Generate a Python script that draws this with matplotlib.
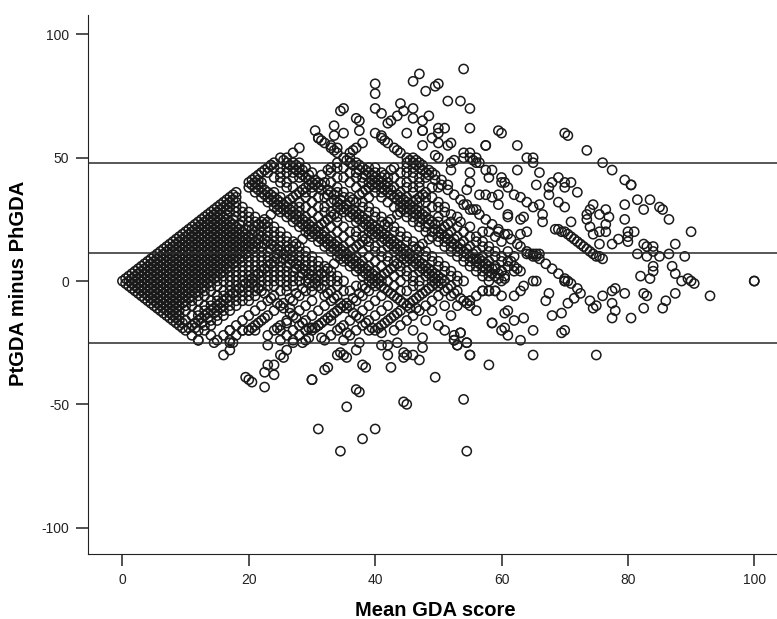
import matplotlib
matplotlib.use('Agg')
import matplotlib.pyplot as plt

plt.rcParams['font.family'] = ['Liberation Sans', 'DejaVu Sans']
plt.rcParams['axes.unicode_minus'] = False

x_ticks = [0, 20, 40, 60, 80, 100]
y_ticks = [-100, -50, 0, 50, 100]
limit_lines = [47.9, 11.4, -25.2]

# isolated circles (mean, difference)
sparse_points = [
    (54, 86), (47, 84), (46, 81), (50, 80), (49.5, 79), (48, 77), (40, 80), (40, 76), (40, 70), (41, 68),
    (44, 72), (46, 70), (44.5, 69), (43.5, 67), (42.5, 65), (42, 64), (46, 66), (47.5, 65), (45, 60), (47.5, 61),
    (47.5, 55), (35, 70), (34.5, 69), (37, 66), (37.5, 65), (37.5, 61), (40, 60), (41, 59), (33.5, 63), (33.5, 59),
    (35, 60), (30.5, 61), (31, 58), (33, 55), (34, 54), (28, 54), (27, 52), (25, 50), (26, 50), (23.5, 47),
    (51.5, 73), (53.5, 73), (55, 70), (48.5, 67), (47.5, 61), (50, 62), (51, 62), (50, 60), (49, 58), (50, 56),
    (51.5, 55), (52, 56), (55, 62), (59.5, 61), (60, 60), (57.5, 55), (57.5, 55), (62.5, 55), (70, 60), (70.5, 59),
    (73.5, 53), (76, 48), (77.5, 45), (79.5, 41), (80.5, 39), (80.5, 39), (64, 50), (65, 50), (65, 48), (62.5, 45),
    (66, 44), (65.5, 39), (55, 52), (56, 50), (56.5, 48), (54, 50), (52.5, 49), (49.5, 51), (50, 50), (57.5, 45),
    (58.5, 45), (55, 44), (52, 45), (58, 42), (60, 42), (60, 40), (61, 38), (55, 40), (54.5, 37), (69, 42),
    (68, 40), (70, 40), (71, 40), (70, 38), (72, 36), (67.5, 38), (67.5, 35), (69, 32), (70, 30), (56.5, 35),
    (57.5, 35), (58.5, 34), (59.5, 35), (59.5, 31), (62, 35), (63, 34), (64, 32), (65, 30), (66, 31), (66.5, 27),
    (66.5, 24), (74.5, 31), (74, 29), (73.5, 27), (73.5, 25), (74, 22), (74.5, 19), (76.5, 29), (75.5, 27), (77, 26),
    (76.5, 23), (75.5, 20), (76.5, 20), (77.5, 15), (78.5, 17), (75.5, 15), (79.5, 31), (79.5, 25), (81.5, 33), (82.5, 29),
    (83.5, 33), (85, 30), (85.5, 29), (86.5, 25), (80, 20), (81, 20), (80, 16), (80, 18), (90, 20), (87.5, 15),
    (82.5, 15), (83, 14), (84, 14), (84, 12), (81.5, 11), (83, 10), (85, 10), (86.5, 11), (89, 10), (84, 6),
    (84, 4), (83.5, 1), (82, 2), (87, 6), (87.5, 3), (88.5, 0), (89.5, 1), (90, 0), (90.5, -1), (93, -6),
    (100, 0), (100, 0), (87.5, -5), (86, -8), (85.5, -11), (82.5, -5), (83, -6), (82.5, -11), (80.5, -15), (77.5, -15),
    (78, -12), (77.5, -9), (79.5, -5), (78, -3), (77.5, -4), (76, -6), (75, -10), (74.5, -11), (74, -8), (72.5, -5),
    (71.5, -7), (70.5, -9), (69.5, -13), (68, -14), (67, -8), (67.5, -5), (75, -30), (65, -30), (63, -24), (65, -20),
    (61, -22), (60.5, -19), (60, -20), (58.5, -17), (62, -16), (61, -12), (60.5, -13), (63.5, -15), (69.5, -21), (70, -20),
    (55, -30), (54.5, -25), (53, -26), (52.5, -24), (52.5, -22), (53.5, -21), (68.5, 21), (69, 21), (69.5, 20), (70, 20),
    (70.5, 19), (71, 18), (71.5, 17), (72, 16), (72.5, 15), (73, 14), (73.5, 13), (74, 12), (74.5, 11), (75, 10),
    (75.5, 10), (76, 9), (71, 24), (63, 14), (64, 12), (65, 10), (65.5, 10), (66, 9), (67, 7), (68, 5),
    (69, 3), (70, 1), (70.5, 0), (71, -1), (72, -3), (64, 11), (64.5, 11), (65, 11), (65.5, 11), (66, 11),
    (61, 27), (61, 26), (63, 25), (63.5, 26), (64, 20), (63, 19), (62.5, 15), (61.5, 17), (61, 19), (59.5, 20),
    (60.5, 40), (54, 31), (55, 29), (56, 29), (51, 28), (52, 27), (53, 26), (53.5, 24), (56, 9), (57, 8),
    (58, 6), (59, 5), (60, 4), (60.5, 2), (61.5, 8), (62, 6), (62.5, 5), (63, 4), (65.5, 0), (70, 0),
    (57, -4), (58, -4), (59, -4), (63, -4), (63.5, -2), (55, -10), (55, -8), (56, -12), (34.5, -69), (54.5, -69),
    (38, -64), (31, -60), (40, -60), (35.5, -51), (54, -48), (44.5, -49), (45, -50), (37, -44), (37.5, -45), (30, -40),
    (30, -40), (49.5, -39), (32, -36), (32.5, -35), (38, -34), (38.5, -35), (42.5, -35), (19.5, -39), (20, -40), (20.5, -41),
    (22.5, -43), (22.5, -37), (24, -38), (23, -34), (24, -34), (16, -30), (17, -28), (17, -25), (17.5, -25), (14.5, -25),
    (12, -24), (14, -22), (17, -20), (23, -26), (25, -30), (25.5, -31), (26, -28), (27, -25), (27, -24), (34, -30),
    (34.5, -29), (35, -30), (35.5, -31), (37, -28), (37.5, -25), (41, -26), (42, -26), (42, -30), (43.5, -25), (44.5, -29),
    (44.5, -31), (45, -30), (46, -30), (47, -32), (47.5, -27), (47.5, -23), (55, -30), (58, -34), (52.5, -24), (53, -26),
    (54.5, -25), (53.5, -21), (58.5, -17), (31.5, -23), (33, -16), (34.5, -19), (35.5, -21), (39, -20), (40, -20), (41, -21),
    (20, -20), (20, -20), (19, -20), (21, -20), (24.5, -19), (25, -20), (26, -17), (29, -20), (30, -19), (31, -18),
    (28.5, -25), (29.5, -23),
]

# dense core of the cloud, read row by row: one list of means per difference level
core_levels = [58, 56, 54, 52, 50, 48, 46, 44, 42, 40, 38, 36, 34, 32, 30, 28, 26, 24, 22, 20, 18, 16, 14, 12, 10, 8, 6, 4, 2, 0,
               -2, -4, -6, -8, -10, -12, -14, -16, -18, -20, -22, -24]
core_means = [
    [31, 41],
    [32, 38, 42],
    [33, 37, 43],
    [34, 36, 44, 54],
    [35, 36, 45, 46, 55],
    [24, 26, 27, 28, 34, 36, 37, 45, 46, 47, 52, 56],
    [23, 24, 25, 26, 27, 28, 29, 33, 34, 35, 38, 39, 40, 43, 45, 46, 47],
    [22, 23, 25, 26, 27, 28, 30, 33, 36, 37, 39, 40, 41, 44, 45, 46, 48, 49],
    [21, 24, 25, 27, 28, 29, 34, 35, 37, 38, 40, 41, 42, 43, 46, 47, 48],
    [20, 21, 22, 25, 26, 30, 31, 32, 33, 36, 38, 39, 40, 41, 42, 44, 45, 47],
    [20, 21, 22, 26, 27, 29, 30, 31, 34, 37, 39, 40, 41, 42, 43, 45, 46, 47, 49, 50],
    [18, 21, 22, 23, 24, 28, 29, 30, 33, 34, 35, 38, 40, 41, 42, 44, 46, 48],
    [17, 18, 22, 23, 24, 25, 27, 29, 31, 32, 35, 36, 39, 41, 43, 44, 45, 47, 48, 49],
    [16, 17, 18, 23, 24, 25, 26, 28, 30, 33, 34, 36, 37, 38, 42, 44, 45, 46, 47, 48, 50],
    [15, 16, 17, 18, 19, 24, 25, 26, 27, 28, 29, 31, 32, 34, 35, 38, 39, 43, 44, 45, 46, 49, 50, 51],
    [14, 15, 17, 18, 19, 20, 25, 26, 27, 28, 30, 32, 33, 35, 36, 37, 39, 40, 44, 45, 46, 47, 48],
    [13, 14, 15, 16, 18, 19, 20, 21, 26, 27, 28, 29, 31, 33, 34, 36, 37, 38, 40, 41, 45, 46, 47, 48, 50],
    [12, 13, 14, 15, 16, 17, 19, 20, 21, 22, 23, 27, 28, 29, 30, 32, 34, 37, 38, 39, 41, 42, 46, 47, 49, 50, 52],
    [11, 12, 13, 14, 15, 16, 17, 18, 20, 21, 22, 23, 24, 28, 29, 30, 31, 33, 35, 38, 39, 40, 42, 43, 47, 48, 51, 53, 55],
    [10, 11, 12, 13, 14, 15, 16, 17, 18, 19, 21, 22, 23, 24, 25, 29, 30, 31, 32, 34, 36, 37, 39, 40, 41, 43, 44, 48, 49, 50, 52, 54, 57, 58],
    [9, 10, 11, 12, 13, 14, 15, 16, 17, 18, 19, 20, 22, 23, 24, 25, 26, 30, 31, 32, 33, 35, 37, 38, 40, 41, 42, 44, 45, 49, 50, 51, 53, 55, 56, 59],
    [8, 9, 10, 11, 12, 13, 14, 15, 16, 17, 18, 19, 20, 21, 23, 24, 25, 26, 27, 31, 32, 33, 34, 36, 38, 39, 41, 42, 43, 45, 46, 50, 51, 52, 54, 56, 57, 60],
    [7, 8, 9, 10, 11, 12, 13, 14, 15, 16, 17, 18, 19, 20, 21, 22, 24, 25, 26, 27, 28, 32, 33, 34, 35, 37, 39, 40, 42, 43, 44, 46, 47, 51, 52, 53, 55, 57, 58],
    [6, 7, 8, 9, 10, 11, 12, 13, 14, 15, 16, 17, 18, 19, 20, 21, 22, 23, 25, 26, 27, 28, 29, 33, 34, 35, 36, 38, 40, 41, 43, 44, 45, 47, 48, 52, 53, 54, 56, 58, 59, 61],
    [5, 6, 7, 8, 9, 10, 11, 12, 13, 14, 15, 16, 17, 18, 19, 20, 21, 22, 23, 24, 26, 27, 28, 29, 30, 34, 35, 36, 37, 39, 41, 42, 44, 45, 46, 48, 49, 53, 54, 55, 57, 59, 60, 62],
    [4, 5, 6, 7, 8, 9, 10, 11, 12, 13, 14, 15, 16, 17, 18, 19, 20, 21, 22, 23, 24, 25, 27, 28, 29, 30, 31, 35, 36, 37, 38, 40, 42, 43, 45, 46, 47, 49, 50, 54, 55, 56, 58, 60, 61],
    [3, 4, 5, 6, 7, 8, 9, 10, 11, 12, 13, 14, 15, 16, 17, 18, 19, 20, 21, 22, 23, 24, 25, 26, 28, 29, 30, 31, 32, 36, 37, 38, 39, 41, 43, 44, 46, 47, 48, 50, 51, 55, 56, 57, 59, 61],
    [2, 3, 4, 5, 6, 7, 8, 9, 10, 11, 12, 13, 14, 15, 16, 17, 18, 19, 20, 21, 22, 23, 24, 25, 26, 27, 29, 30, 31, 32, 33, 37, 38, 39, 40, 42, 44, 45, 47, 48, 49, 51, 52, 56, 57, 58, 60, 62],
    [1, 2, 3, 4, 5, 6, 7, 8, 9, 10, 11, 12, 13, 14, 15, 16, 17, 18, 19, 20, 21, 22, 23, 24, 25, 26, 27, 28, 30, 31, 32, 33, 34, 38, 39, 40, 41, 43, 45, 46, 48, 49, 50, 52, 53, 57, 58, 59],
    [0, 1, 2, 3, 4, 5, 6, 7, 8, 9, 10, 11, 12, 13, 14, 15, 16, 17, 18, 19, 20, 21, 22, 23, 24, 25, 26, 27, 28, 29, 31, 32, 33, 34, 35, 39, 40, 41, 42, 44, 46, 47, 49, 50, 51, 53, 54, 58, 60, 65, 70],
    [1, 2, 3, 4, 5, 6, 7, 8, 9, 10, 11, 12, 13, 14, 15, 17, 18, 19, 20, 21, 22, 23, 24, 26, 27, 30, 31, 32, 34, 37, 38, 40, 41, 43, 46, 47, 49, 50, 52],
    [2, 3, 4, 5, 6, 7, 8, 9, 10, 11, 12, 13, 14, 16, 17, 18, 19, 20, 21, 22, 25, 26, 29, 30, 33, 35, 36, 39, 42, 44, 45, 48, 51, 53, 57, 58, 59],
    [3, 4, 5, 6, 7, 8, 9, 10, 11, 12, 13, 15, 16, 17, 18, 19, 20, 21, 24, 28, 32, 34, 38, 41, 43, 47, 50, 52, 56, 60, 62],
    [4, 5, 6, 7, 8, 9, 10, 11, 12, 14, 15, 16, 17, 18, 19, 20, 23, 27, 30, 33, 37, 40, 44, 46, 49, 54, 55],
    [5, 6, 7, 8, 9, 10, 11, 13, 14, 15, 16, 17, 18, 22, 25, 29, 32, 35, 36, 39, 42, 45, 48, 51, 53],
    [6, 7, 8, 9, 10, 12, 13, 14, 15, 16, 17, 21, 24, 28, 31, 34, 38, 41, 44, 47, 49],
    [7, 8, 9, 11, 12, 13, 15, 16, 20, 23, 27, 30, 33, 37, 40, 43, 46, 52],
    [8, 9, 10, 12, 14, 15, 19, 22, 26, 29, 32, 36, 39, 42, 45, 48],
    [9, 11, 13, 14, 18, 21, 25, 28, 31, 35, 38, 41, 44, 50],
    [10, 12, 13, 17, 19, 24, 27, 30, 34, 37, 43, 46, 51],
    [11, 16, 18, 23, 26, 28, 33, 36],
    [12, 15, 17, 25, 29, 32, 35],
]

# the dark diagonal bands of the cloud sit on the odd difference levels
band_levels = [57, 53, 49, 47, 45, 43, 41, 39, 37, 35, 33, 31, 29, 27, 25, 23, 21, 19, 17, 15, 13, 11, 9, 7, 5, 3, 1,
               -1, -3, -5, -7, -9, -11, -13, -15, -17, -19]
band_means = [
    [31.5, 41.5],
    [33.5, 36.5, 43.5],
    [25.5, 35.5, 45.5, 46.5, 55.5],
    [23.5, 26.5, 27.5, 36.5, 37.5, 46.5, 47.5],
    [22.5, 27.5, 28.5, 32.5, 37.5, 38.5, 42.5, 47.5, 48.5],
    [21.5, 28.5, 29.5, 31.5, 38.5, 39.5, 41.5, 48.5, 49.5],
    [20.5, 21.5, 29.5, 30.5, 39.5, 40.5, 49.5, 50.5],
    [20.5, 21.5, 29.5, 30.5, 31.5, 39.5, 40.5, 41.5, 50.5, 51.5],
    [21.5, 22.5, 28.5, 31.5, 32.5, 38.5, 41.5, 42.5, 51.5],
    [17.5, 22.5, 23.5, 27.5, 32.5, 33.5, 37.5, 42.5, 43.5, 47.5, 52.5],
    [16.5, 17.5, 23.5, 24.5, 26.5, 33.5, 34.5, 36.5, 43.5, 44.5, 46.5, 53.5],
    [15.5, 16.5, 24.5, 25.5, 34.5, 35.5, 44.5, 45.5, 54.5],
    [14.5, 15.5, 16.5, 24.5, 25.5, 26.5, 34.5, 35.5, 36.5, 44.5, 45.5, 46.5, 55.5],
    [13.5, 14.5, 15.5, 16.5, 23.5, 26.5, 27.5, 33.5, 36.5, 37.5, 43.5, 46.5, 47.5, 56.5],
    [12.5, 13.5, 14.5, 15.5, 16.5, 17.5, 22.5, 27.5, 28.5, 32.5, 37.5, 38.5, 42.5, 47.5, 48.5, 57.5],
    [11.5, 12.5, 13.5, 14.5, 15.5, 16.5, 17.5, 18.5, 21.5, 22.5, 28.5, 29.5, 31.5, 38.5, 39.5, 41.5, 48.5, 49.5, 51.5, 58.5],
    [10.5, 11.5, 12.5, 13.5, 14.5, 15.5, 16.5, 17.5, 18.5, 19.5, 20.5, 29.5, 30.5, 39.5, 40.5, 49.5, 50.5, 59.5],
    [9.5, 10.5, 11.5, 12.5, 13.5, 14.5, 15.5, 16.5, 17.5, 18.5, 19.5, 20.5, 21.5, 29.5, 30.5, 31.5, 39.5, 40.5, 41.5, 50.5, 51.5, 60.5],
    [8.5, 9.5, 10.5, 11.5, 12.5, 13.5, 14.5, 15.5, 16.5, 17.5, 18.5, 19.5, 20.5, 21.5, 22.5, 28.5, 31.5, 32.5, 38.5, 41.5, 42.5, 48.5, 51.5, 52.5],
    [7.5, 8.5, 9.5, 10.5, 11.5, 12.5, 13.5, 14.5, 15.5, 16.5, 17.5, 18.5, 19.5, 20.5, 21.5, 22.5, 23.5, 27.5, 32.5, 33.5, 37.5, 42.5, 43.5, 47.5, 52.5, 53.5],
    [6.5, 7.5, 8.5, 9.5, 10.5, 11.5, 12.5, 13.5, 14.5, 15.5, 16.5, 17.5, 18.5, 19.5, 20.5, 23.5, 24.5, 26.5, 33.5, 34.5, 36.5, 43.5, 44.5, 46.5, 53.5, 54.5],
    [5.5, 6.5, 7.5, 8.5, 9.5, 10.5, 11.5, 12.5, 13.5, 14.5, 15.5, 16.5, 17.5, 18.5, 19.5, 24.5, 25.5, 34.5, 35.5, 44.5, 45.5, 54.5, 55.5],
    [4.5, 5.5, 6.5, 7.5, 8.5, 9.5, 10.5, 11.5, 12.5, 13.5, 14.5, 15.5, 16.5, 17.5, 18.5, 24.5, 25.5, 26.5, 34.5, 35.5, 36.5, 44.5, 45.5, 46.5, 55.5, 56.5],
    [3.5, 4.5, 5.5, 6.5, 7.5, 8.5, 9.5, 10.5, 11.5, 12.5, 13.5, 14.5, 15.5, 16.5, 17.5, 23.5, 26.5, 27.5, 33.5, 36.5, 37.5, 43.5, 46.5, 47.5, 56.5, 57.5],
    [2.5, 3.5, 4.5, 5.5, 6.5, 7.5, 8.5, 9.5, 10.5, 11.5, 12.5, 13.5, 14.5, 15.5, 16.5, 22.5, 27.5, 28.5, 32.5, 37.5, 38.5, 42.5, 47.5, 48.5, 57.5, 58.5],
    [1.5, 2.5, 3.5, 4.5, 5.5, 6.5, 7.5, 8.5, 9.5, 10.5, 11.5, 12.5, 13.5, 14.5, 15.5, 21.5, 28.5, 29.5, 31.5, 38.5, 39.5, 41.5, 48.5, 49.5, 58.5, 59.5],
    [0.5, 1.5, 2.5, 3.5, 4.5, 5.5, 6.5, 7.5, 8.5, 9.5, 10.5, 11.5, 12.5, 13.5, 14.5, 20.5, 29.5, 30.5, 39.5, 40.5, 49.5, 50.5, 59.5, 60.5],
    [0.5, 1.5, 2.5, 3.5, 4.5, 5.5, 6.5, 7.5, 8.5, 9.5, 10.5, 11.5, 12.5, 13.5, 19.5, 20.5, 29.5, 30.5, 39.5, 40.5, 49.5, 50.5],
    [1.5, 2.5, 3.5, 4.5, 5.5, 6.5, 7.5, 8.5, 9.5, 10.5, 11.5, 12.5, 18.5, 21.5, 28.5, 31.5, 38.5, 41.5, 48.5, 51.5],
    [2.5, 3.5, 4.5, 5.5, 6.5, 7.5, 8.5, 9.5, 10.5, 11.5, 17.5, 22.5, 27.5, 32.5, 37.5, 42.5, 47.5, 52.5],
    [3.5, 4.5, 5.5, 6.5, 7.5, 8.5, 9.5, 10.5, 16.5, 23.5, 26.5, 33.5, 36.5, 43.5, 46.5, 53.5],
    [4.5, 5.5, 6.5, 7.5, 8.5, 9.5, 15.5, 24.5, 25.5, 34.5, 35.5, 44.5, 45.5, 54.5],
    [5.5, 6.5, 7.5, 8.5, 14.5, 15.5, 25.5, 26.5, 34.5, 35.5, 45.5, 46.5],
    [6.5, 7.5, 8.5, 13.5, 14.5, 26.5, 33.5, 36.5, 43.5],
    [7.5, 8.5, 12.5, 13.5, 22.5, 27.5, 32.5, 37.5, 42.5],
    [8.5, 9.5, 11.5, 12.5, 21.5, 28.5, 31.5, 38.5, 41.5],
    [9.5, 10.5, 11.5, 20.5, 29.5, 30.5, 39.5, 40.5],
]

fig = plt.figure(figsize=(7.77, 6.19), dpi=100)
ax = fig.add_axes([88 / 777, 1 - 554 / 619, (777 - 88) / 777, (554 - 15) / 619])

for level, means in zip(core_levels + band_levels, core_means + band_means):
    ax.scatter(means, [level] * len(means), s=44, facecolors='none', edgecolors='#1a1a1a', linewidths=1.1)
ax.scatter([p[0] for p in sparse_points], [p[1] for p in sparse_points], s=44,
           facecolors='none', edgecolors='#1a1a1a', linewidths=1.1)

for y in limit_lines:
    ax.axhline(y, color='#2a2a2a', lw=1.1, zorder=3)

ax.set_xlim(-5.45, 103.6)
ax.set_ylim(-110.7, 107.9)
ax.set_xticks(x_ticks)
ax.set_yticks(y_ticks)
ax.spines['top'].set_visible(False)
ax.spines['right'].set_visible(False)
ax.spines['left'].set_color('#222222')
ax.spines['bottom'].set_color('#222222')
ax.tick_params(axis='both', length=8.5, width=1.1, color='#222222', labelsize=10, labelcolor='#222222', pad=5)
fig.text(435 / 777, 1 - 610 / 619, 'Mean GDA score', fontsize=14.5, fontweight='bold', ha='center', va='center')
fig.text(19 / 777, 1 - 283 / 619, 'PtGDA minus PhGDA', fontsize=14.5, fontweight='bold', rotation=90, ha='center', va='center')

fig.savefig('out.png', dpi=100)
